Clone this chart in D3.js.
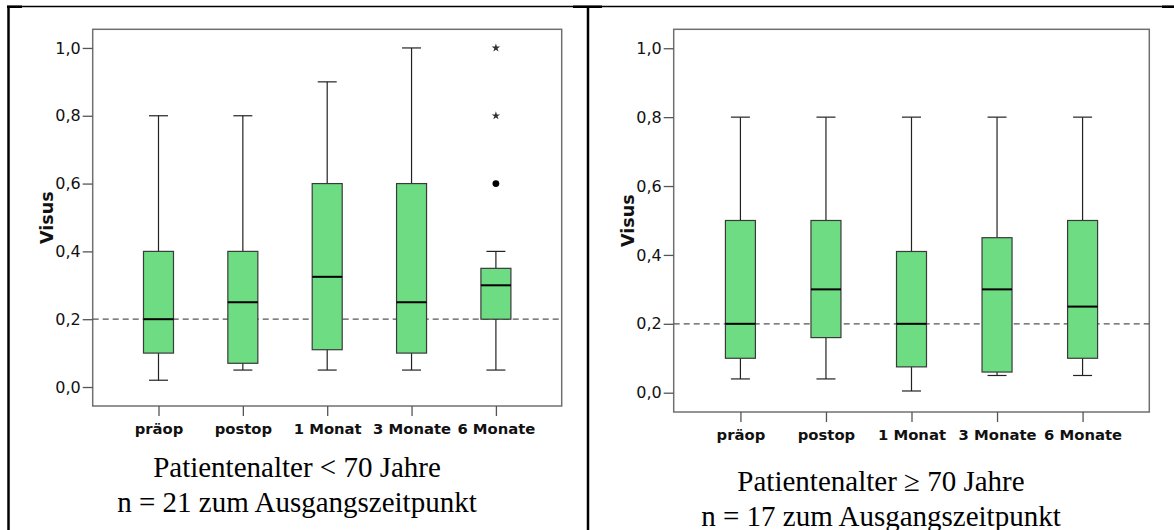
<!DOCTYPE html>
<html>
<head>
<meta charset="utf-8">
<script src="https://cdnjs.cloudflare.com/ajax/libs/d3/7.8.5/d3.min.js"></script>
<style>
    body { margin: 0; background: #fff; }
    svg { display: block; }
</style>
</head>
<body>
<svg id="chart" width="1174" height="530"></svg>
<script>
var categories = ["präop", "postop", "1 Monat", "3 Monate", "6 Monate"];
var yTicks = [0, 0.2, 0.4, 0.6, 0.8, 1.0];
var refValue = 0.2;

// Patientenalter < 70
var lowA  = [0.02, 0.05, 0.05, 0.05, 0.05];
var q1A   = [0.10, 0.07, 0.11, 0.10, 0.20];
var medA  = [0.20, 0.25, 0.325, 0.25, 0.30];
var q3A   = [0.40, 0.40, 0.60, 0.60, 0.35];
var highA = [0.80, 0.80, 0.90, 1.00, 0.40];
var outlierCatA = ["6 Monate"];
var outlierValA = [0.6];
var extremeCatA = ["6 Monate", "6 Monate"];
var extremeValA = [0.8, 1.0];

// Patientenalter >= 70
var lowB  = [0.04, 0.04, 0.005, 0.05, 0.05];
var q1B   = [0.10, 0.16, 0.075, 0.06, 0.10];
var medB  = [0.20, 0.30, 0.20, 0.30, 0.25];
var q3B   = [0.50, 0.50, 0.41, 0.45, 0.50];
var highB = [0.80, 0.80, 0.80, 0.80, 0.80];

var captionA = ["Patientenalter < 70 Jahre", "n = 21 zum Ausgangszeitpunkt"];
var captionB = ["Patientenalter \u2265 70 Jahre", "n = 17 zum Ausgangszeitpunkt"];

var svg = d3.select("#chart");

// table frame
var frame = svg.append("g").attr("stroke", "#000").attr("fill", "none");
frame.append("line").attr("x1", 7).attr("x2", 1174).attr("y1", 6.5).attr("y2", 6.5).attr("stroke-width", 1.5);
frame.append("line").attr("x1", 8.5).attr("x2", 8.5).attr("y1", 6).attr("y2", 530).attr("stroke-width", 2.5);
frame.append("line").attr("x1", 588).attr("x2", 588).attr("y1", 6).attr("y2", 530).attr("stroke-width", 2.5);
[[7, 22], [573, 602], [1162, 1174]].forEach(function (s) {
    svg.append("rect").attr("x", s[0]).attr("y", 5.5).attr("width", s[1] - s[0]).attr("height", 2.5).attr("fill", "#000");
});

function buildBoxes(low, q1, med, q3, high) {
    return categories.map(function (c, i) {
        return {cat: c, low: low[i], q1: q1[i], med: med[i], q3: q3[i], high: high[i]};
    });
}

function drawPanel(opt) {
    var g = svg.append("g");
    var x = d3.scalePoint().domain(categories).range([opt.left, opt.right]).padding(0.78);
    var y = d3.scaleLinear().domain([-0.056, 1.055]).range([opt.bottom, opt.top]);
    var boxW = 30, capW = 19;

    g.append("rect")
        .attr("x", opt.left).attr("y", opt.top)
        .attr("width", opt.right - opt.left).attr("height", opt.bottom - opt.top)
        .attr("fill", "#fff").attr("stroke", "#707070").attr("stroke-width", 1.5);

    var yAxis = g.append("g")
        .attr("transform", "translate(" + opt.left + ",0)")
        .call(d3.axisLeft(y).tickValues(yTicks).tickSize(10).tickPadding(2)
            .tickFormat(function (d) { return d.toFixed(1).replace(".", ","); }));
    yAxis.select(".domain").remove();
    yAxis.selectAll("line").attr("stroke", "#555").attr("stroke-width", 1.3);
    yAxis.selectAll("text").attr("font-family", "DejaVu Sans, sans-serif").attr("font-size", 16).attr("fill", "#111");

    var xAxis = g.append("g")
        .attr("transform", "translate(0," + opt.bottom + ")")
        .call(d3.axisBottom(x).tickSize(10).tickPadding(7));
    xAxis.select(".domain").remove();
    xAxis.selectAll("line").attr("stroke", "#555").attr("stroke-width", 1.3);
    xAxis.selectAll("text").attr("font-family", "DejaVu Sans, sans-serif").attr("font-size", 14.8)
        .attr("font-weight", "bold").attr("fill", "#111");

    g.append("text")
        .attr("transform", "translate(" + (opt.left - 40) + "," + ((opt.top + opt.bottom) / 2) + ") rotate(-90)")
        .attr("text-anchor", "middle")
        .attr("font-family", "DejaVu Sans, sans-serif").attr("font-size", 17.5).attr("font-weight", "bold")
        .attr("fill", "#111")
        .text("Visus");

    g.append("line")
        .attr("x1", opt.left).attr("x2", opt.right)
        .attr("y1", y(refValue)).attr("y2", y(refValue))
        .attr("stroke", "#555").attr("stroke-width", 1.2).attr("stroke-dasharray", "6,4");

    var boxes = g.selectAll("g.box").data(opt.boxes).enter().append("g").attr("class", "box");
    boxes.append("line")
        .attr("x1", function (d) { return x(d.cat); }).attr("x2", function (d) { return x(d.cat); })
        .attr("y1", function (d) { return y(d.high); }).attr("y2", function (d) { return y(d.low); })
        .attr("stroke", "#222").attr("stroke-width", 1.2);
    boxes.selectAll("line.cap")
        .data(function (d) { return [[d.cat, d.high], [d.cat, d.low]]; })
        .enter().append("line").attr("class", "cap")
        .attr("x1", function (d) { return x(d[0]) - capW / 2; }).attr("x2", function (d) { return x(d[0]) + capW / 2; })
        .attr("y1", function (d) { return y(d[1]); }).attr("y2", function (d) { return y(d[1]); })
        .attr("stroke", "#222").attr("stroke-width", 1.2);
    boxes.append("rect")
        .attr("x", function (d) { return x(d.cat) - boxW / 2; })
        .attr("y", function (d) { return y(d.q3); })
        .attr("width", boxW)
        .attr("height", function (d) { return y(d.q1) - y(d.q3); })
        .attr("fill", "#6edc82").attr("stroke", "#3a3a3a").attr("stroke-width", 1.2);
    boxes.append("line")
        .attr("x1", function (d) { return x(d.cat) - boxW / 2; }).attr("x2", function (d) { return x(d.cat) + boxW / 2; })
        .attr("y1", function (d) { return y(d.med); }).attr("y2", function (d) { return y(d.med); })
        .attr("stroke", "#000").attr("stroke-width", 2);

    if (opt.outCat) {
        g.selectAll("circle.out").data(opt.outCat).enter().append("circle").attr("class", "out")
            .attr("cx", function (d) { return x(d); })
            .attr("cy", function (d, i) { return y(opt.outVal[i]); })
            .attr("r", 3.4).attr("fill", "#000");
        g.selectAll("path.ext").data(opt.extCat).enter().append("path").attr("class", "ext")
            .attr("transform", function (d, i) { return "translate(" + x(d) + "," + y(opt.extVal[i]) + ")"; })
            .attr("d", d3.symbol().type(d3.symbolStar).size(22))
            .attr("fill", "#333");
    }

    var cap = g.append("text")
        .attr("text-anchor", "middle")
        .attr("font-family", "Liberation Serif, Times New Roman, serif").attr("font-size", 29)
        .attr("fill", "#000");
    cap.selectAll("tspan").data(opt.caption).enter().append("tspan")
        .attr("x", opt.capX)
        .attr("y", function (d, i) { return opt.capY + i * 35; })
        .text(function (d) { return d; });
}

drawPanel({
    left: 92.7, right: 561.7, top: 29.3, bottom: 406,
    boxes: buildBoxes(lowA, q1A, medA, q3A, highA),
    outCat: outlierCatA, outVal: outlierValA, extCat: extremeCatA, extVal: extremeValA,
    caption: captionA, capX: 297, capY: 476.5
});
drawPanel({
    left: 673.7, right: 1149.3, top: 29.3, bottom: 412,
    boxes: buildBoxes(lowB, q1B, medB, q3B, highB),
    caption: captionB, capX: 881, capY: 491
});
</script>
</body>
</html>
